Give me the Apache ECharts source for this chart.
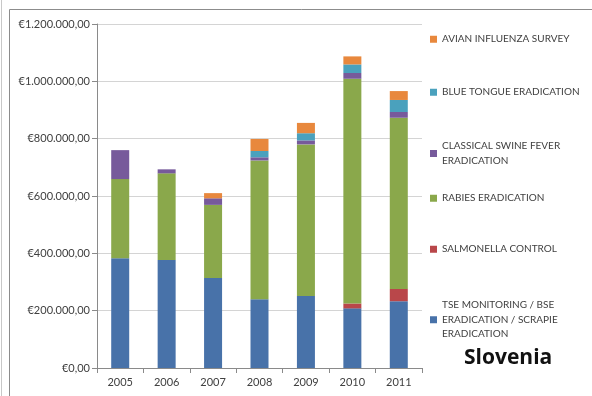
<!DOCTYPE html>
<html>
<head>
<meta charset="utf-8">
<script src="https://cdn.jsdelivr.net/npm/echarts@6/dist/echarts.min.js"></script>
<style>
html,body{margin:0;padding:0;background:#fff;}
#chart{width:592px;height:396px;}
</style>
</head>
<body>
<div id="chart"></div>
<script>
var years = ['2005','2006','2007','2008','2009','2010','2011'];
var tse        = [383000, 377000, 314000, 240000, 251000, 208000, 233000];
var salmonella = [0,      0,      0,      0,      0,      17000,  43000];
var rabies     = [276000, 302000, 255000, 484000, 529000, 784000, 597000];
var swineFever = [101000, 14000,  23000,  11000,  14000,  20000,  20000];
var blueTongue = [0,      0,      0,      22000,  25000,  30000,  42000];
var avianFlu   = [0,      0,      18000,  42000,  36000,  28000,  31000];
var seriesNames = [
  'TSE MONITORING / BSE\nERADICATION / SCRAPIE\nERADICATION',
  'SALMONELLA CONTROL',
  'RABIES ERADICATION',
  'CLASSICAL SWINE FEVER\nERADICATION',
  'BLUE TONGUE ERADICATION',
  'AVIAN INFLUENZA SURVEY'
];
var seriesData = [tse, salmonella, rabies, swineFever, blueTongue, avianFlu];
var colors = ['#4872a9', '#b9474a', '#8aa84b', '#775a9b', '#4aa1bd', '#e8883d'];
var legendTops = [293, 237, 186, 134, 80, 27];

function euro(v) {
  var s = String(Math.round(v));
  s = s.replace(/\B(?=(\d{3})+(?!\d))/g, '.');
  return '\u20ac' + s + ',00';
}

var chart = echarts.init(document.getElementById('chart'), null, {renderer: 'canvas'});
var font = 'Lato, "Liberation Sans", sans-serif';

var legends = seriesNames.map(function (n, i) {
  return {
    data: [n],
    left: 425,
    top: legendTops[i],
    orient: 'vertical',
    icon: 'rect',
    itemWidth: 7,
    itemHeight: 7,
    selectedMode: false,
    textStyle: {fontFamily: font, fontSize: 10, color: '#404040', lineHeight: 14.5}
  };
});

var series = seriesNames.map(function (n, i) {
  return {
    name: n,
    type: 'bar',
    stack: 'total',
    barWidth: 18,
    data: seriesData[i],
    itemStyle: {color: colors[i]},
    emphasis: {disabled: true}
  };
});

chart.setOption({
  animation: false,
  backgroundColor: '#ffffff',
  title: {
    text: 'Slovenia',
    left: 459,
    top: 343,
    textStyle: {fontFamily: '"Open Sans", Lato, sans-serif', fontSize: 21, fontWeight: 'bold', color: '#111'}
  },
  legend: legends,
  grid: {left: 97, right: 170, top: 24, bottom: 28, containLabel: false},
  xAxis: {
    type: 'category',
    data: years,
    boundaryGap: true,
    axisLine: {lineStyle: {color: '#8a8a8a'}},
    axisTick: {show: true, length: 5, lineStyle: {color: '#8a8a8a'}},
    axisLabel: {fontFamily: font, fontSize: 11, color: '#404040', margin: 9}
  },
  yAxis: {
    type: 'value',
    min: 0,
    max: 1200000,
    interval: 200000,
    axisLine: {show: true, lineStyle: {color: '#8a8a8a'}},
    axisTick: {show: true, length: 5, lineStyle: {color: '#8a8a8a'}},
    splitLine: {lineStyle: {color: '#d4d4d4'}},
    axisLabel: {fontFamily: font, fontSize: 11, color: '#404040', margin: 7, formatter: euro}
  },
  graphic: [
    {type: 'rect', shape: {x: 9.5, y: 9.5, width: 700, height: 500}, style: {fill: 'none', stroke: '#8c8c8c', lineWidth: 1}, silent: true},
    {type: 'line', shape: {x1: 1.5, y1: 0, x2: 1.5, y2: 396}, style: {stroke: '#c8c8c8', lineWidth: 1}, silent: true}
  ],
  series: series
});
</script>
</body>
</html>
